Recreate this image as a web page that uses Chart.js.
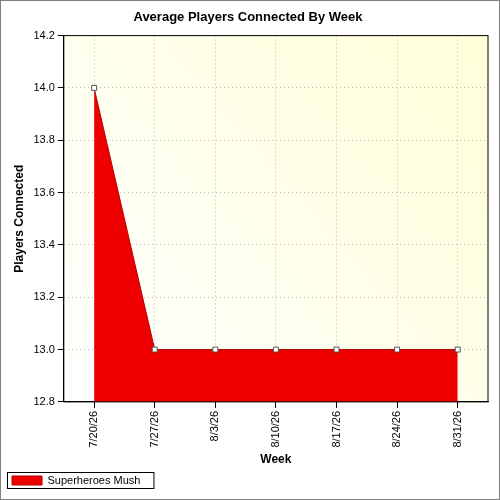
<!DOCTYPE html>
<html><head><script src="https://cdn.jsdelivr.net/npm/chart.js"></script>
<style>body{margin:0;background:#fff}#w{width:500px;height:500px}</style></head>
<body><div id="w"><canvas id="c"></canvas></div>
<script>
const categories=["7/20/26","7/27/26","8/3/26","8/10/26","8/17/26","8/24/26","8/31/26"];
const players=[14.0,13.0,13.0,13.0,13.0,13.0,13.0];
const seriesName="Superheroes Mush";
const bgPlugin={id:'bg',beforeDraw(ch){const {ctx,chartArea:a}=ch;const g=ctx.createLinearGradient(a.left,a.bottom,a.right,a.top);g.addColorStop(0,'#ffffff');g.addColorStop(1,'#ffffd8');ctx.save();ctx.fillStyle=g;ctx.fillRect(a.left,a.top,a.right-a.left,a.bottom-a.top);ctx.restore();},
afterDraw(ch){const ctx=ch.ctx;ctx.save();ctx.strokeStyle='#808080';ctx.lineWidth=1;ctx.strokeRect(0.5,0.5,499,499);
const a=ch.chartArea;ctx.strokeStyle='#000';ctx.strokeRect(a.left,a.top,a.right-a.left,a.bottom-a.top);
const l=ch.legend;if(l&&l.legendHitBoxes[0]){const h=l.legendHitBoxes[0];ctx.strokeRect(h.left-4.5,h.top-2.5,h.width+18,h.height+5);}ctx.restore();}};
new Chart(document.getElementById('c'),{type:'line',
data:{labels:categories,datasets:[{label:seriesName,data:players,borderColor:'#b00000',borderWidth:1,backgroundColor:'#ee0000',fill:'start',tension:0,pointStyle:'rect',pointRadius:3.5,pointBackgroundColor:'#fff',pointBorderColor:'#555',pointBorderWidth:1}]},
plugins:[bgPlugin],
options:{animation:false,responsive:true,maintainAspectRatio:false,devicePixelRatio:1,
layout:{padding:{left:8,right:12,top:2,bottom:4}},
plugins:{title:{display:true,text:'Average Players Connected By Week',color:'#000',font:{family:'Liberation Sans',size:13,weight:'bold'},padding:{top:8,bottom:10}},
legend:{position:'bottom',align:'start',labels:{color:'#000',font:{family:'Liberation Sans',size:11},boxWidth:30,boxHeight:9,padding:4},fill:true},tooltip:{enabled:false}},
scales:{x:{offset:true,grid:{offset:false,color:'#bbb',drawTicks:true,tickColor:'#000',tickLength:6},border:{color:'#000',dash:[1,3]},
ticks:{color:'#000',font:{family:'Liberation Sans',size:11},maxRotation:90,minRotation:90},
title:{display:true,text:'Week',color:'#000',font:{family:'Liberation Sans',size:12,weight:'bold'},padding:{top:2,bottom:4}}},
y:{min:12.8,max:14.2,grid:{color:'#bbb',tickColor:'#000',tickLength:6},border:{color:'#000',dash:[1,3]},
ticks:{stepSize:0.2,color:'#000',font:{family:'Liberation Sans',size:11},callback:v=>v.toFixed(1)},
title:{display:true,text:'Players Connected',color:'#000',font:{family:'Liberation Sans',size:12,weight:'bold'}}}}}});
</script></body></html>
